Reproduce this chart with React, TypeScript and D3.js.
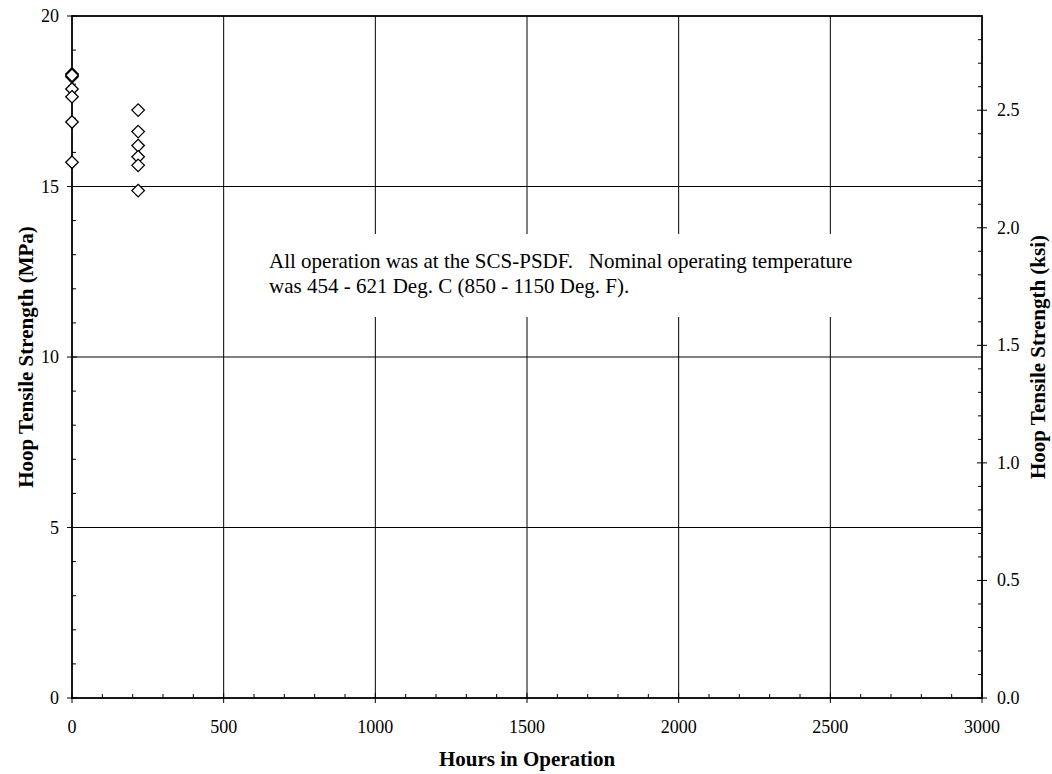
import React, { useEffect, useRef } from "react";
import * as d3 from "d3";

// hours in operation for each sample group
const hours0 = [0, 0, 0, 0, 0, 0, 0];
const strength0 = [18.3, 18.22, 17.86, 17.63, 16.89, 15.71, 18.26];
const hours1 = [218, 218, 218, 218, 218, 218];
const strength1 = [17.24, 16.61, 16.2, 15.87, 15.62, 14.88];

const xTicks = [0, 500, 1000, 1500, 2000, 2500, 3000];
const yTicks = [0, 5, 10, 15, 20];
const ksiTicks = [0.0, 0.5, 1.0, 1.5, 2.0, 2.5];
const noteLines = [
  "All operation was at the SCS-PSDF.   Nominal operating temperature",
  "was 454 - 621 Deg. C (850 - 1150 Deg. F).",
];

const MPA_PER_KSI = 6.894757;

export default function App() {
  const ref = useRef<SVGSVGElement | null>(null);

  useEffect(() => {
    const svg = d3.select(ref.current);
    svg.selectAll("*").remove();

    const left = 72, right = 982, top = 16, bottom = 698;
    const font = "'Liberation Serif', 'Times New Roman', serif";

    const x = d3.scaleLinear().domain([0, 3000]).range([left, right]);
    const y = d3.scaleLinear().domain([0, 20]).range([bottom, top]);
    const yk = d3.scaleLinear().domain([0, 20 / MPA_PER_KSI]).range([bottom, top]);

    // grid lines
    const grid = svg.append("g").attr("stroke", "#000").attr("stroke-width", 1);
    xTicks.slice(1, -1).forEach(t => {
      grid.append("line").attr("x1", x(t)).attr("x2", x(t)).attr("y1", top).attr("y2", bottom);
    });
    yTicks.slice(1, -1).forEach(t => {
      grid.append("line").attr("x1", left).attr("x2", right).attr("y1", y(t)).attr("y2", y(t));
    });

    // annotation box (white, covers grid)
    svg.append("rect")
      .attr("x", 250).attr("y", 234).attr("width", 622).attr("height", 83)
      .attr("fill", "#fff");
    svg.append("text")
      .attr("font-family", font).attr("font-size", 21)
      .selectAll("tspan")
      .data(noteLines)
      .enter()
      .append("tspan")
      .attr("x", 269)
      .attr("y", (d, i) => 268 + i * 25)
      .style("white-space", "pre")
      .text(d => d);

    // frame
    svg.append("rect")
      .attr("x", left).attr("y", top).attr("width", right - left).attr("height", bottom - top)
      .attr("fill", "none").attr("stroke", "#000").attr("stroke-width", 1.8);

    // minor ticks
    const ticks = svg.append("g").attr("stroke", "#000").attr("stroke-width", 1);
    d3.range(100, 3000, 100).filter(t => t % 500 !== 0).forEach(t => {
      ticks.append("line").attr("x1", x(t)).attr("x2", x(t)).attr("y1", bottom).attr("y2", bottom - 4);
    });
    d3.range(1, 20, 1).filter(t => t % 5 !== 0).forEach(t => {
      ticks.append("line").attr("x1", left).attr("x2", left + 4).attr("y1", y(t)).attr("y2", y(t));
    });
    d3.range(1, 29, 1).filter(t => t % 5 !== 0).forEach(t => {
      ticks.append("line").attr("x1", right).attr("x2", right - 4)
        .attr("y1", yk(t / 10)).attr("y2", yk(t / 10));
    });

    // major ticks
    xTicks.forEach(t => {
      ticks.append("line").attr("x1", x(t)).attr("x2", x(t)).attr("y1", bottom - 5).attr("y2", bottom + 5);
    });
    yTicks.forEach(t => {
      ticks.append("line").attr("x1", left - 5).attr("x2", left + 5).attr("y1", y(t)).attr("y2", y(t));
    });
    ksiTicks.forEach(t => {
      ticks.append("line").attr("x1", right - 5).attr("x2", right + 5).attr("y1", yk(t)).attr("y2", yk(t));
    });

    // tick labels
    svg.append("g").selectAll("text").data(xTicks).enter().append("text")
      .attr("x", d => x(d)).attr("y", 733)
      .attr("text-anchor", "middle")
      .attr("font-family", font).attr("font-size", 18)
      .text(d => d);
    svg.append("g").selectAll("text").data(yTicks).enter().append("text")
      .attr("x", 59).attr("y", d => y(d) + 6)
      .attr("text-anchor", "end")
      .attr("font-family", font).attr("font-size", 18)
      .text(d => d);
    svg.append("g").selectAll("text").data(ksiTicks).enter().append("text")
      .attr("x", 997).attr("y", d => yk(d) + 6)
      .attr("text-anchor", "start")
      .attr("font-family", font).attr("font-size", 18)
      .text(d => d.toFixed(1));

    // axis titles
    svg.append("text")
      .attr("x", (left + right) / 2).attr("y", 766)
      .attr("text-anchor", "middle")
      .attr("font-family", font).attr("font-size", 21).attr("font-weight", "bold")
      .text("Hours in Operation");
    svg.append("text")
      .attr("transform", `translate(33,${(top + bottom) / 2}) rotate(-90)`)
      .attr("text-anchor", "middle")
      .attr("font-family", font).attr("font-size", 21).attr("font-weight", "bold")
      .text("Hoop Tensile Strength (MPa)");
    svg.append("text")
      .attr("transform", `translate(1045,${(top + bottom) / 2}) rotate(-90)`)
      .attr("text-anchor", "middle")
      .attr("font-family", font).attr("font-size", 21).attr("font-weight", "bold")
      .text("Hoop Tensile Strength (ksi)");

    // data points (open diamonds)
    const pts = hours0.map((h, i) => ({ h, s: strength0[i] }))
      .concat(hours1.map((h, i) => ({ h, s: strength1[i] })));
    const diamond = d3.symbol().type(d3.symbolDiamond2).size(100);
    svg.append("g").selectAll("path").data(pts).enter().append("path")
      .attr("d", diamond)
      .attr("transform", d => `translate(${x(d.h)},${y(d.s)})`)
      .attr("fill", "#fff").attr("stroke", "#000").attr("stroke-width", 1.3);
  }, []);

  return (
    <svg ref={ref} width={1052} height={774}
      style={{ position: "absolute", left: 0, top: 0, background: "#fff" }} />
  );
}
